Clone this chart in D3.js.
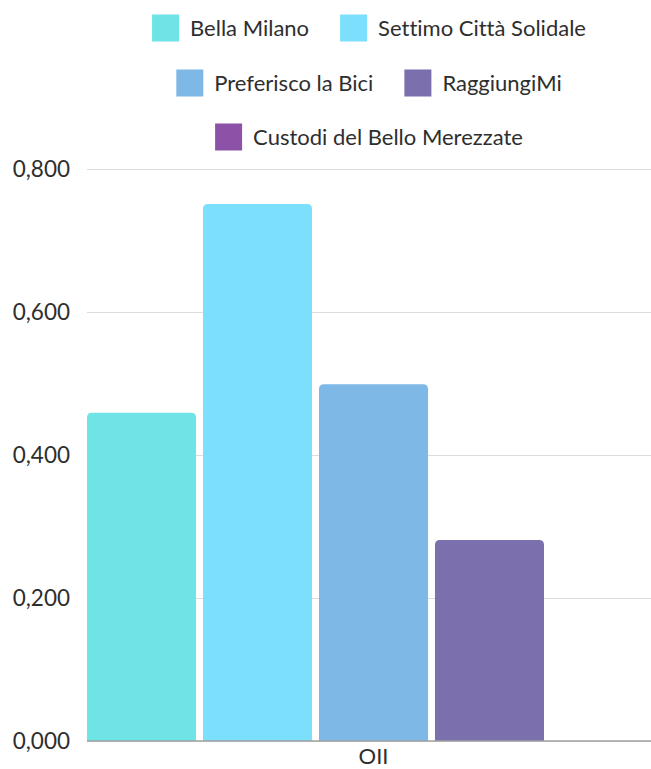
<!DOCTYPE html>
<html>
<head>
<meta charset="utf-8">
<script src="https://cdn.jsdelivr.net/npm/d3@7"></script>
<style>
  body { margin: 0; background: #fff; }
  svg { display: block; font-family: Lato, "Open Sans", sans-serif; font-variant-ligatures: none; }
</style>
</head>
<body>
<svg width="651" height="769"></svg>
<script>
const WIDTH = 651;
const HEIGHT = 769;
const X_LEFT = 87;
const X_RIGHT = 660;
const Y_TOP = 169;
const Y_BOTTOM = 741;
const BAR_RADIUS = 5;

const categories = ["OII"];
const seriesNames = ["Bella Milano", "Settimo Città Solidale", "Preferisco la Bici", "RaggiungiMi", "Custodi del Bello Merezzate"];
const seriesValues = [0.459, 0.751, 0.499, 0.281, 0];
const seriesColors = ["#6fe4e6", "#7cdffc", "#7eb8e6", "#7b6fad", "#8c52a8"];
const yTicks = [0, 0.2, 0.4, 0.6, 0.8];
const legendRows = [[0, 1], [2, 3], [4]];

const itLocale = d3.formatLocale({ decimal: ",", thousands: ".", grouping: [3], currency: ["", " €"] });
const fmt = itLocale.format(".3f");

const svg = d3.select("svg");

const yScale = d3.scaleLinear().domain([0, 0.8]).range([Y_BOTTOM, Y_TOP]);
const xCat = d3.scaleBand().domain(categories).range([X_LEFT, X_RIGHT]).padding(0);
const xSeries = d3.scaleBand()
   .domain(d3.range(seriesNames.length))
   .range([0, xCat.bandwidth()])
   .paddingInner(0.06)
   .paddingOuter(0);

// gridlines
const grid = svg.append("g")
   .attr("transform", `translate(${X_LEFT},0)`)
   .call(d3.axisLeft(yScale).tickValues(yTicks).tickSize(-(WIDTH - X_LEFT)).tickFormat(""));
grid.select(".domain").remove();
grid.selectAll("line").attr("stroke", "#dcdcdc").attr("stroke-width", 1);

// y labels
const gy = svg.append("g")
   .attr("transform", `translate(${X_LEFT - 17},0)`)
   .call(d3.axisLeft(yScale).tickValues(yTicks).tickSize(0).tickPadding(0).tickFormat(fmt));
gy.select(".domain").remove();
gy.selectAll("text")
   .attr("fill", "#2e2e2e")
   .style("font-size", "22.5px")
   .style("font-family", "Lato, sans-serif");

// bars with rounded tops
function barPath(x, y, w, h, r) {
   if (h <= 0) return "";
   r = Math.min(r, h, w / 2);
   return `M${x},${y + h}V${y + r}Q${x},${y} ${x + r},${y}H${x + w - r}Q${x + w},${y} ${x + w},${y + r}V${y + h}Z`;
}

categories.forEach((cat, ci) => {
   const g = svg.append("g").attr("transform", `translate(${xCat(cat)},0)`);
   g.selectAll("path")
      .data(seriesValues)
      .enter()
      .append("path")
      .attr("d", (d, i) => barPath(xSeries(i), yScale(d), xSeries.bandwidth(), yScale(0) - yScale(d), BAR_RADIUS))
      .attr("fill", (d, i) => seriesColors[i]);
});

// baseline
svg.append("line")
   .attr("x1", X_LEFT).attr("x2", WIDTH)
   .attr("y1", yScale(0)).attr("y2", yScale(0))
   .attr("stroke", "#a0a0a0").attr("stroke-width", 1.5);

// x axis label
const gx = svg.append("g")
   .attr("transform", `translate(0,${Y_BOTTOM})`)
   .call(d3.axisBottom(xCat).tickSize(0).tickPadding(7));
gx.select(".domain").remove();
gx.selectAll("text")
   .attr("fill", "#2e2e2e")
   .style("font-size", "22px")
   .style("font-family", "Lato, sans-serif");

// legend
const LEGEND_CENTER = 369;
const rowY = [28, 83, 137];
const SW = 27, SW_GAP = 11, ITEM_GAP = 31;
legendRows.forEach((row, ri) => {
   const rowG = svg.append("g");
   let x = 0;
   row.forEach(si => {
      const item = rowG.append("g").attr("transform", `translate(${x},0)`);
      item.append("rect")
         .attr("x", 0).attr("y", rowY[ri] - SW / 2)
         .attr("width", SW).attr("height", SW)
         .attr("fill", seriesColors[si]);
      const t = item.append("text")
         .attr("x", SW + SW_GAP).attr("y", rowY[ri])
         .attr("dy", "0.35em")
         .attr("fill", "#2e2e2e")
         .style("font-size", "22px")
         .text(seriesNames[si]);
      x += SW + SW_GAP + t.node().getComputedTextLength() + ITEM_GAP;
   });
   const total = x - ITEM_GAP;
   rowG.attr("transform", `translate(${LEGEND_CENTER - total / 2},0)`);
});
</script>
</body>
</html>
